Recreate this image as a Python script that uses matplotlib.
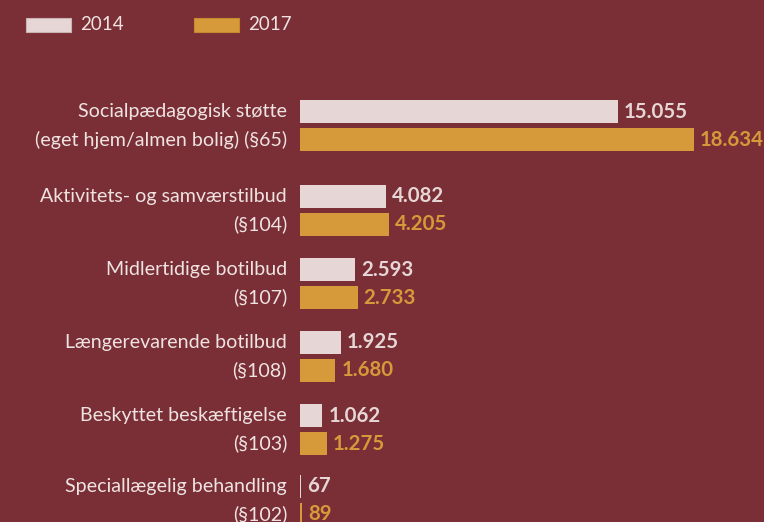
import matplotlib.pyplot as plt
from matplotlib.patches import Rectangle

# data
categories = [
    "Socialpædagogisk støtte\n(eget hjem/almen bolig) (§65)",
    "Aktivitets- og samværstilbud\n(§104)",
    "Midlertidige botilbud\n(§107)",
    "Længerevarende botilbud\n(§108)",
    "Beskyttet beskæftigelse\n(§103)",
    "Speciallægelig behandling\n(§102)",
]
values_2014 = [15055, 4082, 2593, 1925, 1062, 67]
values_2017 = [18634, 4205, 2733, 1680, 1275, 89]
labels_2014 = ["15.055", "4.082", "2.593", "1.925", "1.062", "67"]
labels_2017 = ["18.634", "4.205", "2.733", "1.680", "1.275", "89"]
series_names = ["2014", "2017"]

BG = "#7a2f36"
PINK = "#e6d7d6"
GOLD = "#d69a3a"
TXT = "#efe3e2"
W, H = 764, 522

plt.rcParams['font.family'] = ['Lato', 'DejaVu Sans']

fig = plt.figure(figsize=(W / 100, H / 100), dpi=100, facecolor=BG)
ax = fig.add_axes([300 / W, 0, 1 - 300 / W, 1])
ax.set_facecolor(BG)

# layout: group tops in pixel rows
group_top = [100, 185, 258, 331, 404, 475]
bar_h = 23
gap = 28
y14 = [t + bar_h / 2 for t in group_top]
y17 = [y + gap for y in y14]

ax.barh(y14, values_2014, height=bar_h, color=PINK, align='center')
ax.barh(y17, values_2017, height=bar_h, color=GOLD, align='center')

ax.set_xlim(0, 464 / 0.02113)
ax.set_ylim(H, 0)
ax.axis('off')

for y, v, s in zip(y14, values_2014, labels_2014):
    ax.annotate(s, (v, y), xytext=(6, 0), textcoords='offset pixels',
                va='center', ha='left', fontsize=14.7, fontweight='bold',
                color=PINK)
for y, v, s in zip(y17, values_2017, labels_2017):
    ax.annotate(s, (v, y), xytext=(6, 0), textcoords='offset pixels',
                va='center', ha='left', fontsize=14.7, fontweight='bold',
                color=GOLD, annotation_clip=False)

for cat, ya, yb in zip(categories, y14, y17):
    line1, line2 = cat.split("\n")
    ax.annotate(line1, (0, ya), xytext=(-13, 0), textcoords='offset pixels',
                va='center', ha='right', fontsize=14.1, color=TXT,
                annotation_clip=False)
    ax.annotate(line2, (0, yb), xytext=(-13, 0), textcoords='offset pixels',
                va='center', ha='right', fontsize=14.1, color=TXT,
                annotation_clip=False)

# legend drawn at the top left
for x0, col, name in [(26, PINK, series_names[0]), (194, GOLD, series_names[1])]:
    fig.add_artist(Rectangle((x0 / W, 1 - 32 / H), 45 / W, 14 / H,
                             transform=fig.transFigure, facecolor=col,
                             edgecolor="#c9b3b2" if col == PINK else "#c48a30",
                             linewidth=0.8))
    fig.text((x0 + 54) / W, 1 - 25 / H, name, va='center', ha='left',
             fontsize=13.5, color=TXT)

fig.savefig("out.png", dpi=100, facecolor=BG)
